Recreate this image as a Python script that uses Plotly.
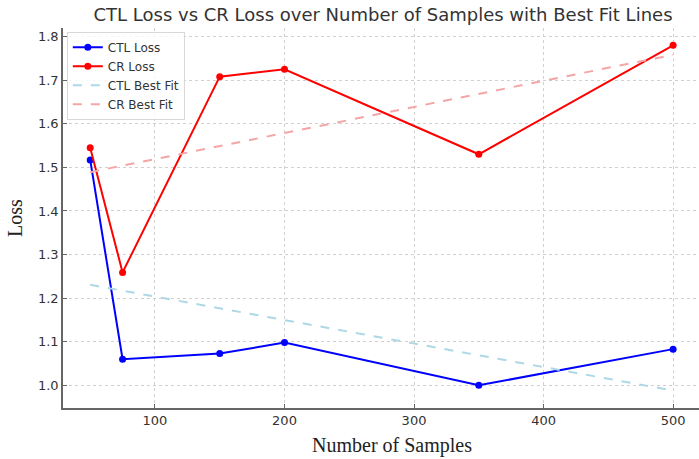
import numpy as np
import plotly.graph_objects as go

samples = [50, 75, 150, 200, 350, 500]
ctl_loss = [1.517, 1.060, 1.073, 1.098, 1.000, 1.083]
cr_loss = [1.545, 1.259, 1.708, 1.725, 1.530, 1.780]

x_ticks = [100, 200, 300, 400, 500]
y_ticks = [1.0, 1.1, 1.2, 1.3, 1.4, 1.5, 1.6, 1.7, 1.8]

x_arr = np.array(samples, dtype=float)
ctl_fit = np.poly1d(np.polyfit(x_arr, ctl_loss, 1))(x_arr)
cr_fit = np.poly1d(np.polyfit(x_arr, cr_loss, 1))(x_arr)

fig = go.Figure()
fig.add_trace(go.Scatter(x=samples, y=ctl_loss, mode="lines+markers", name="CTL Loss",
                         line=dict(color="#0000ff", width=2), marker=dict(size=7, color="#0000ff")))
fig.add_trace(go.Scatter(x=samples, y=cr_loss, mode="lines+markers", name="CR Loss",
                         line=dict(color="#ff0000", width=2), marker=dict(size=7, color="#ff0000")))
fig.add_trace(go.Scatter(x=samples, y=ctl_fit, mode="lines", name="CTL Best Fit",
                         line=dict(color="#add8e6", width=2, dash="dash")))
fig.add_trace(go.Scatter(x=samples, y=cr_fit, mode="lines", name="CR Best Fit",
                         line=dict(color="#f4a6a6", width=2, dash="dash")))

axis_common = dict(
    showline=True, linecolor="#666666", linewidth=1.5,
    ticks="inside", ticklen=4, tickcolor="#666666", tickwidth=1,
    showgrid=True, gridcolor="#d0d0d0", griddash="dot", gridwidth=1,
    zeroline=False, tickfont=dict(family="DejaVu Sans", size=13, color="#333333"),
)

fig.update_layout(
    width=699, height=459,
    margin=dict(l=63, r=0, t=28, b=51),
    paper_bgcolor="white", plot_bgcolor="white",
    title=dict(text="CTL Loss vs CR Loss over Number of Samples with Best Fit Lines",
               x=383 / 699, xanchor="center", y=1 - 15 / 459, yanchor="middle",
               font=dict(family="DejaVu Sans", size=18, color="#333333")),
    xaxis=dict(range=[29, 520], tickvals=x_ticks, **axis_common),
    yaxis=dict(range=[0.948, 1.8196], tickvals=y_ticks, tickformat=".1f",
               title=dict(text="Loss", standoff=10,
                          font=dict(family="Liberation Serif", size=20, color="#222222")),
               **axis_common),
    legend=dict(x=0.006, y=0.99, xanchor="left", yanchor="top",
                bgcolor="rgba(255,255,255,0.8)", bordercolor="#d8d8d8", borderwidth=1,
                font=dict(family="DejaVu Sans", size=12, color="#333333"),
                tracegroupgap=0, itemwidth=30),
    showlegend=True,
)

fig.add_annotation(text="Number of Samples", xref="paper", yref="paper",
                   x=(392 - 63) / 636, y=-(445 - 408) / 380, xanchor="center", yanchor="middle",
                   showarrow=False,
                   font=dict(family="Liberation Serif", size=20, color="#222222"))

fig.write_html("out.html")
